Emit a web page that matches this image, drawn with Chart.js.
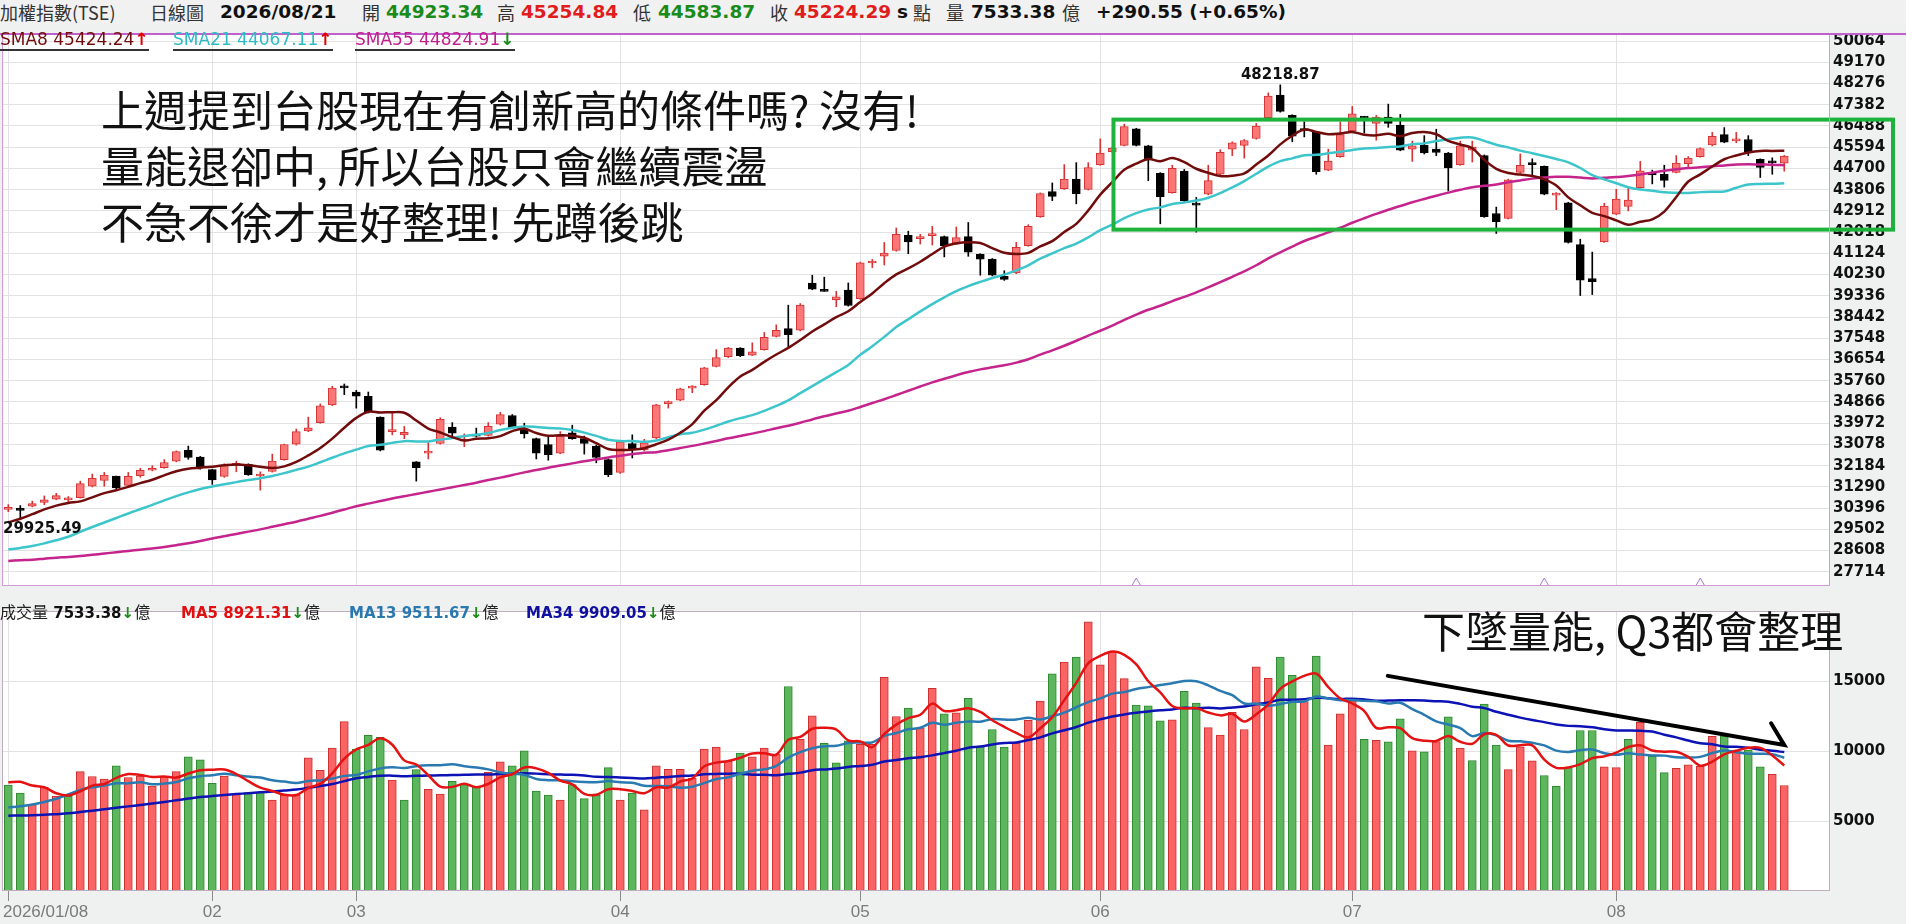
<!DOCTYPE html>
<html>
<head>
<meta charset="utf-8">
<script src="https://cdn.jsdelivr.net/npm/chart.js@4.4.1/dist/chart.umd.min.js"></script>
<style>
html, body { margin: 0; padding: 0; width: 1906px; height: 924px; overflow: hidden; background: #eff1f1; font-family: "DejaVu Sans", sans-serif; }
#hdr { position: absolute; left: 0; top: 0; width: 1906px; height: 24px; background: #f1f1f1; }
.h { position: absolute; top: 0; line-height: 24px; font-size: 18px; color: #333; white-space: nowrap; font-family: "Noto Sans CJK TC", sans-serif; }
.hn { position: absolute; top: 0; line-height: 24px; font-size: 18.5px; font-weight: bold; white-space: nowrap; font-family: "DejaVu Sans", sans-serif; color: #111; }
.grn { color: #1a8a1a; }
.red { color: #e01c1c; }
canvas { position: absolute; left: 0; }
.lg { position: absolute; top: 30px; line-height: 19px; font-size: 17px; white-space: nowrap; border-bottom: 2px solid #333; z-index: 3; }
.vl { position: absolute; top: 602px; line-height: 19px; font-size: 15px; font-weight: bold; white-space: nowrap; z-index: 3; }
.vl .k { font-family: "Noto Sans CJK TC", sans-serif; font-weight: normal; color: #222; font-size: 16px; }
.up { color: #e00000; font-weight: bold; }
.dn { color: #1a8a1a; font-weight: bold; }
.big { position: absolute; font-family: "Noto Sans CJK TC", sans-serif; font-size: 43px; line-height: 43px; color: #111; white-space: nowrap; z-index: 4; }
</style>
</head>
<body>
<div id="hdr"></div>
<span class="h" style="left:0">加權指數(TSE)</span>
<span class="h" style="left:150px">日線圖</span>
<span class="hn" style="left:220px">2026/08/21</span>
<span class="h" style="left:362px">開</span><span class="hn grn" style="left:386px">44923.34</span>
<span class="h" style="left:497px">高</span><span class="hn red" style="left:521px">45254.84</span>
<span class="h" style="left:633px">低</span><span class="hn grn" style="left:658px">44583.87</span>
<span class="h" style="left:770px">收</span><span class="hn red" style="left:794px">45224.29</span>
<span class="hn" style="left:897px">s</span><span class="h" style="left:913px">點</span>
<span class="h" style="left:946px">量</span><span class="hn" style="left:971px">7533.38</span><span class="h" style="left:1062px">億</span>
<span class="hn" style="left:1096px">+290.55 (+0.65%)</span>

<canvas id="pc" width="1906" height="576" style="top:22px"></canvas>
<canvas id="vc" width="1906" height="325" style="top:599px"></canvas>

<div class="lg" style="left:0;color:#720d0d">SMA8 45424.24<span class="up">↑</span></div>
<div class="lg" style="left:173px;color:#2cbcc4">SMA21 44067.11<span class="up">↑</span></div>
<div class="lg" style="left:355px;color:#c0208c">SMA55 44824.91<span class="dn">↓</span></div>

<div class="vl" style="left:0;color:#111"><span class="k">成交量</span> 7533.38<span class="dn">↓</span><span class="k">億</span></div>
<div class="vl" style="left:181px;color:#e01010">MA5 8921.31<span class="dn">↓</span><span class="k">億</span></div>
<div class="vl" style="left:349px;color:#2a78b0">MA13 9511.67<span class="dn">↓</span><span class="k">億</span></div>
<div class="vl" style="left:526px;color:#1010a0">MA34 9909.05<span class="dn">↓</span><span class="k">億</span></div>

<div class="big" style="left:101px;top:87px">上週提到台股現在有創新高的條件嗎? 沒有!</div>
<div class="big" style="left:101px;top:143px">量能退卻中, 所以台股只會繼續震盪</div>
<div class="big" style="left:101px;top:199px">不急不徐才是好整理! 先蹲後跳</div>
<div class="big" style="left:1422px;top:608px">下墜量能, Q3都會整理</div>

<script>
// trading days per month (2026)
const tradeDays = {
    '01': [8, 9, 12, 13, 14, 15, 16, 19, 20, 21, 22, 23, 26, 27, 28, 29, 30],
    '02': [2, 3, 4, 5, 6, 9, 10, 11, 23, 24, 25, 26],
    '03': [2, 3, 4, 5, 6, 9, 10, 11, 12, 13, 16, 17, 18, 19, 20, 23, 24, 25, 26, 27, 30, 31],
    '04': [1, 2, 7, 8, 9, 10, 13, 14, 15, 16, 17, 20, 21, 22, 23, 24, 27, 28, 29, 30],
    '05': [4, 5, 6, 7, 8, 11, 12, 13, 14, 15, 18, 19, 20, 21, 22, 25, 26, 27, 28, 29],
    '06': [1, 2, 3, 4, 5, 8, 9, 10, 11, 12, 15, 16, 17, 18, 22, 23, 24, 25, 26, 29, 30],
    '07': [1, 2, 3, 6, 7, 8, 9, 10, 13, 14, 15, 16, 17, 20, 21, 22, 23, 24, 27, 28, 30, 31],
    '08': [3, 4, 5, 6, 7, 10, 11, 12, 13, 14, 17, 18, 19, 20, 21]
};

const open = [
    30340, 30380, 30475, 30638, 30773, 30746, 30841, 31315, 31559, 31735,
    31356, 31762, 31992, 32101, 32372, 32832, 32548, 32020, 31735, 32196,
    32236, 31749, 31938, 32440, 33090, 33645, 33997, 34743, 35480, 35284,
    35108, 34228, 33618, 33483, 32345, 32711, 33117, 33808, 33212, 33483,
    33456, 33930, 34296, 33726, 33320, 33076, 32710, 33564, 33320, 33008,
    32440, 31898, 33117, 32846, 33347, 34783, 34946, 35447, 35596, 36368,
    36775, 37140, 36842, 37072, 37628, 37953, 37885, 39877, 39552, 39172,
    39579, 39213, 40717, 41001, 41245, 41882, 41747, 41868, 41828, 41557,
    41828, 41083, 40880, 40162, 40297, 41449, 42668, 43724, 43846, 44253,
    43819, 44862, 45404, 45675, 46366, 45648, 44497, 43684, 44591, 43210,
    43616, 44456, 45513, 45675, 45960, 46840, 47789, 46935, 46352, 46217,
    44632, 45200, 46284, 46853, 46596, 46867, 46528, 45512, 45688, 45512,
    45350, 44862, 45470, 45241, 42803, 42600, 44537, 44889, 44794, 43580,
    43250, 41489, 40066, 41611, 42776, 43101, 43886, 44537, 44456, 44537,
    44903, 45200, 45688, 46122, 45864, 45919, 45079, 44943, 44923.34
];
const high = [
    30543, 30502, 30692, 30909, 31017, 30882, 31532, 31830, 31898, 31749,
    31898, 32074, 32182, 32440, 32805, 33008, 32575, 32033, 32264, 32372,
    32264, 31925, 32670, 33090, 33727, 34228, 34783, 35528, 35623, 35352,
    35284, 34241, 34404, 33835, 32358, 33158, 34201, 33997, 33523, 33767,
    33997, 34431, 34336, 33970, 33347, 33456, 33618, 33889, 33428, 33049,
    32470, 33212, 33482, 33293, 34770, 34905, 35447, 35555, 36327, 37072,
    37167, 37154, 37357, 37790, 38116, 38942, 39010, 40202, 40121, 39524,
    39877, 40757, 40866, 41584, 42193, 42058, 41923, 42261, 41855, 42234,
    42424, 41110, 40907, 40392, 41584, 42329, 43670, 44090, 44862, 44944,
    44944, 45946, 45608, 46569, 46393, 45675, 44524, 44835, 44659, 43480,
    44835, 45486, 45824, 45919, 46596, 47883, 48218.87, 46962, 46664, 46258,
    45512, 46664, 47314, 46894, 46934, 47409, 46975, 45851, 46081, 46352,
    45377, 45851, 45851, 45268, 43073, 44252, 45309, 45106, 44808, 43684,
    43277, 41719, 41177, 43236, 43819, 43859, 44997, 44632, 44835, 45241,
    45200, 45566, 46217, 46420, 46217, 46081, 45106, 45146, 45254.84
];
const low = [
    30245, 29925.49, 30448, 30543, 30746, 30665, 30814, 31288, 31315, 31207,
    31315, 31695, 31965, 32074, 32345, 32453, 32033, 31396, 31695, 31925,
    31776, 31153, 31911, 32413, 33049, 33618, 33970, 34715, 35176, 34607,
    34404, 32805, 33483, 33320, 31532, 32467, 33090, 33428, 32981, 33388,
    33428, 33889, 33753, 33347, 32467, 32413, 32683, 33293, 32670, 32304,
    31720, 31857, 32507, 32805, 33320, 34607, 34918, 35257, 35569, 36341,
    36734, 36775, 36815, 37045, 37601, 37181, 37858, 39592, 39524, 38874,
    38901, 39186, 40527, 40635, 41218, 41109, 41516, 41476, 40975, 41516,
    41002, 40202, 40175, 39986, 40270, 41422, 42641, 43345, 43819, 43210,
    43792, 44835, 45377, 45648, 45648, 44185, 42370, 43657, 43304, 42018,
    43589, 44429, 45242, 45134, 45933, 46800, 47071, 45824, 46028, 44456,
    44605, 45173, 46257, 46190, 45891, 46433, 45444, 44997, 45309, 45241,
    43751, 44835, 44970, 42640, 41963, 42573, 44496, 44428, 43589, 42965,
    41557, 39348, 39389, 41584, 42749, 42911, 43859, 44049, 43914, 44510,
    44767, 45173, 45648, 45783, 45783, 45241, 44320, 44456, 44583.87
];
const close = [
    30355, 30299, 30584, 30746, 30922, 30814, 31424, 31654, 31789, 31247,
    31735, 31992, 32060, 32318, 32778, 32534, 32128, 31586, 32196, 32277,
    31803, 31790, 32372, 33076, 33618, 33781, 34702, 35447, 35460, 35108,
    34444, 32832, 33699, 33591, 32101, 32751, 34133, 33550, 33293, 33428,
    33835, 34336, 33794, 33523, 32710, 32643, 33414, 33320, 33117, 32534,
    31800, 33184, 32846, 33144, 34742, 34878, 35420, 35474, 36300, 36734,
    37140, 36815, 36978, 37587, 37885, 37696, 38942, 39619, 39524, 39294,
    38928, 40730, 40771, 41137, 41922, 41611, 41774, 41896, 41449, 41787,
    41178, 40880, 40202, 40026, 41381, 42261, 43643, 43521, 44253, 43643,
    44740, 45350, 45553, 46461, 45675, 45106, 43508, 44700, 43345, 43156,
    44185, 45377, 45784, 45878, 46488, 47748, 47098, 46055, 46298, 44564,
    45011, 46122, 47002, 46826, 46867, 46596, 45471, 45648, 45350, 45377,
    44726, 45648, 45600, 42667, 42464, 44225, 44835, 44862, 43616, 43600,
    41584, 40000, 39931, 43114, 43412, 43372, 44605, 44428, 44198, 44930,
    45133, 45539, 46054, 45810, 45891, 45404, 44740, 44933.74, 45224.29
];

// volume (億), 1 = red bar (close up), 0 = green bar
const volume = [
    7573, 6990, 6175, 7409, 6757, 6757, 8528, 8178, 7992, 8947,
    8108, 8202, 7503, 8155, 8528, 9576, 9367, 7689, 8202, 6943,
    7037, 7037, 6501, 6850, 6850, 9506, 8621, 10205, 12093, 10136,
    11114, 10974, 7922, 6501, 8668, 7270, 6920, 7829, 7596, 7456,
    8481, 9227, 8947, 10019, 7130, 6850, 6501, 7596, 6594, 6827,
    8807, 6501, 6990, 5802, 8947, 8691, 8691, 8062, 10136, 10275,
    9273, 9856, 9576, 10205, 9786, 14609, 10834, 12512, 10555, 9157,
    10718, 10485, 10485, 15261, 12466, 13071, 11650, 14469, 12652, 12722,
    13770, 10322, 11534, 10275, 10555, 12186, 13561, 15518, 16357, 16706,
    19222, 16147, 17102, 15168, 13281, 13234, 12163, 12233, 14260, 13421,
    11673, 11137, 12768, 11534, 16007, 15192, 16706, 15401, 13537, 16776,
    10415, 12652, 13584, 10834, 10765, 10648, 12302, 10019, 9949, 10671,
    12442, 10205, 9320, 13351, 10415, 8668, 10299, 9297, 8248, 7479,
    8807, 11464, 11464, 8877, 8807, 10834, 12046, 9623, 8458, 8761,
    9017, 8901, 11044, 11091, 10019, 10066, 8877, 8341, 7533.38
];
const volUp = [
    0, 0, 1, 1, 1, 0, 1, 1, 1, 0,
    1, 1, 1, 1, 1, 0, 0, 0, 1, 1,
    0, 0, 1, 1, 1, 1, 1, 1, 1, 0,
    0, 0, 1, 0, 0, 1, 1, 0, 0, 0,
    1, 1, 0, 0, 0, 0, 1, 0, 0, 0,
    0, 1, 0, 1, 1, 1, 1, 1, 1, 1,
    1, 0, 1, 1, 1, 0, 1, 1, 0, 0,
    0, 1, 1, 1, 1, 0, 1, 1, 0, 1,
    0, 0, 0, 0, 1, 1, 1, 0, 1, 0,
    1, 1, 1, 1, 0, 0, 0, 1, 0, 0,
    1, 1, 1, 1, 1, 1, 0, 0, 1, 0,
    1, 1, 1, 0, 1, 0, 0, 1, 0, 1,
    0, 1, 0, 0, 0, 1, 1, 1, 0, 0,
    0, 0, 0, 1, 1, 0, 1, 0, 0, 1,
    1, 1, 1, 0, 1, 0, 0, 1, 1
];

// moving average values before the window is full
const sma8Head = [29800, 29950, 30140, 30340, 30500, 30610, 30680];
const sma21Head = [28650, 28720, 28800, 28910, 29040, 29190, 29400, 29600, 29790, 29980,
    30170, 30350, 30530, 30720, 30900, 31060, 31200, 31310, 31400, 31490];
const sma55Head = [28172, 28199, 28226, 28267, 28308, 28335, 28375, 28430, 28484, 28538,
    28592, 28646, 28700, 28755, 28836, 28917, 29012, 29120, 29215, 29310,
    29405, 29500, 29608, 29717, 29825, 29947, 30069, 30204, 30340, 30475,
    30584, 30692, 30800, 30895, 30990, 31085, 31180, 31275, 31369, 31464,
    31580, 31680, 31790, 31900, 32000, 32100, 32190, 32280, 32370, 32450,
    32530, 32600, 32670, 32730];
const ma5Head = [7760, 7800, 7530, 7410];
const ma13Head = [5965, 6058, 6175, 6361, 6594, 6897, 7223, 7409, 7526, 7689, 7689, 7759];
const ma34Head = [5380, 5390, 5410, 5440, 5490, 5545, 5640, 5740, 5840, 5940,
    6045, 6150, 6255, 6360, 6480, 6600, 6710, 6780, 6850, 6920,
    6990, 7050, 7110, 7180, 7246, 7370, 7500, 7640, 7850, 8060,
    8150, 8225, 8240];

const priceTicks = [27714, 28608, 29502, 30396, 31290, 32184, 33078, 33972, 34866, 35760,
    36654, 37548, 38442, 39336, 40230, 41124, 42018, 42912, 43806, 44700,
    45594, 46488, 47382, 48276, 49170, 50064];
const volTicks = [5000, 10000, 15000];
const markIdx = [94, 128, 141];

// ---------------------
const dates = [];
Object.keys(tradeDays).forEach(m => {
    tradeDays[m].forEach(d => dates.push('2026/' + m + '/' + String(d).padStart(2, '0')));
});
const idx = dates.map((d, i) => i);
const monthStarts = idx.filter(i => i === 0 || dates[i].slice(5, 7) !== dates[i - 1].slice(5, 7));

function movingAvg(src, n, head) {
    return src.map((v, i) => {
        if (i < n - 1) return head[i];
        let s = 0;
        for (let k = i - n + 1; k <= i; k++) s += src[k];
        return s / n;
    });
}

const sma8 = movingAvg(close, 8, sma8Head);
const sma21 = movingAvg(close, 21, sma21Head);
const sma55 = movingAvg(close, 55, sma55Head);
const ma5 = movingAvg(volume, 5, ma5Head);
const ma13 = movingAvg(volume, 13, ma13Head);
const ma34 = movingAvg(volume, 34, ma34Head);

const X_MIN = -0.525, X_MAX = 151.81;
const up = close.map((c, i) => c >= open[i]);

const UP_FILL = '#fb7676', UP_LINE = '#d63434';

function lineSet(values, color, order) {
    return {
        type: 'line',
        data: idx.map(i => ({ x: i, y: values[i] })),
        borderColor: color,
        borderWidth: 2.5,
        pointRadius: 0,
        tension: 0.35,
        order: order
    };
}

function xAxis(extra) {
    return Object.assign({
        type: 'linear', min: X_MIN, max: X_MAX, offset: false,
        afterBuildTicks: s => { s.ticks = monthStarts.map(v => ({ value: v })); },
        ticks: { display: false },
        grid: { color: '#e2e2e2', drawTicks: false, offset: false },
        border: { display: false }
    }, extra);
}

const axisFont = { family: 'DejaVu Sans', size: 15, weight: 'bold' };

// ---------- price panel ----------
const priceDeco = {
    id: 'priceDeco',
    beforeDraw(c) {
        const { ctx, chartArea: a } = c;
        ctx.save();
        ctx.fillStyle = '#fff';
        ctx.fillRect(a.left, a.top, a.right - a.left, a.bottom - a.top);
        ctx.restore();
    },
    afterDatasetsDraw(c) {
        const { ctx, chartArea: a } = c;
        const xs = c.scales.x, ys = c.scales.y;
        ctx.save();

        // high / low labels
        let hi = 0, lo = 0;
        high.forEach((v, i) => { if (v > high[hi]) hi = i; });
        low.forEach((v, i) => { if (v < low[lo]) lo = i; });
        ctx.font = 'bold 15px "DejaVu Sans"';
        ctx.fillStyle = '#111';
        ctx.textAlign = 'center';
        ctx.textBaseline = 'bottom';
        ctx.fillText(high[hi].toFixed(2), xs.getPixelForValue(hi), ys.getPixelForValue(high[hi]) - 2);
        const loTxt = low[lo].toFixed(2);
        const w = ctx.measureText(loTxt).width;
        ctx.textAlign = 'left';
        ctx.textBaseline = 'top';
        ctx.fillText(loTxt, Math.max(a.left + 1, xs.getPixelForValue(lo) - w / 2), ys.getPixelForValue(low[lo]) + 2);

        // small markers on the bottom edge
        ctx.strokeStyle = '#a57ad0';
        ctx.lineWidth = 1;
        markIdx.forEach(i => {
            const x = xs.getPixelForValue(i);
            ctx.beginPath();
            ctx.moveTo(x - 4, a.bottom - 1);
            ctx.lineTo(x, a.bottom - 8);
            ctx.lineTo(x + 4, a.bottom - 1);
            ctx.stroke();
        });

        // consolidation box
        const l = xs.getPixelForValue(92.1);
        const t = ys.getPixelForValue(46757);
        const b = ys.getPixelForValue(42124);
        ctx.strokeStyle = '#1eb33c';
        ctx.lineWidth = 4;
        ctx.strokeRect(l, t, 1893 - l, b - t);
        ctx.restore();
    },
    afterDraw(c) {
        const { ctx, chartArea: a } = c;
        ctx.save();
        ctx.strokeStyle = '#d39ad8';
        ctx.lineWidth = 1;
        ctx.strokeRect(a.left + 0.5, a.top + 0.5, a.right - a.left - 1, a.bottom - a.top - 1);
        ctx.strokeStyle = '#c060cc';
        ctx.lineWidth = 2;
        ctx.beginPath();
        ctx.moveTo(0, a.top);
        ctx.lineTo(1906, a.top);
        ctx.stroke();
        ctx.restore();
    }
};

new Chart(document.getElementById('pc'), {
    type: 'bar',
    data: {
        datasets: [
            lineSet(sma8, '#700c0c', 0),
            lineSet(sma21, '#3cc6cc', 0),
            lineSet(sma55, '#c4248c', 0),
            {
                data: idx.map(i => ({ x: i, y: [open[i], close[i]] })),
                backgroundColor: up.map(u => u ? UP_FILL : '#000'),
                borderColor: up.map(u => u ? UP_LINE : '#000'),
                borderWidth: 1,
                borderSkipped: false,
                barThickness: 8,
                minBarLength: 2,
                grouped: false,
                order: 1
            },
            {
                data: idx.map(i => ({ x: i, y: [low[i], high[i]] })),
                backgroundColor: up.map(u => u ? UP_LINE : '#000'),
                borderWidth: 0,
                barThickness: 1,
                grouped: false,
                order: 2
            }
        ]
    },
    options: {
        responsive: false,
        animation: false,
        devicePixelRatio: 1,
        layout: { padding: { left: 2, top: 2, right: 0, bottom: 2 } },
        plugins: { legend: { display: false }, tooltip: { enabled: false } },
        scales: {
            x: xAxis({ afterFit: s => { s.height = 0; } }),
            y: {
                position: 'right', min: 27116, max: 50362,
                afterBuildTicks: s => { s.ticks = priceTicks.map(v => ({ value: v })); },
                afterFit: s => { s.width = 76; },
                ticks: { color: '#111', font: axisFont, padding: 3, callback: v => String(v) },
                grid: { color: '#e2e2e2', drawTicks: false },
                border: { display: false }
            }
        }
    },
    plugins: [priceDeco]
});

// ---------- volume panel ----------
const volDeco = {
    id: 'volDeco',
    beforeDraw(c) {
        const { ctx, chartArea: a } = c;
        ctx.save();
        ctx.fillStyle = '#fff';
        ctx.fillRect(a.left, a.top, a.right - a.left, a.bottom - a.top);
        ctx.restore();
    },
    afterDatasetsDraw(c) {
        const { ctx } = c;
        const xs = c.scales.x, ys = c.scales.y;
        // falling-volume arrow
        const x0 = xs.getPixelForValue(114.96), y0 = ys.getPixelForValue(15368);
        const x1 = xs.getPixelForValue(148.0), y1 = ys.getPixelForValue(10422);
        const xb = xs.getPixelForValue(146.9), yb = ys.getPixelForValue(11980);
        ctx.save();
        ctx.strokeStyle = '#000';
        ctx.lineWidth = 4;
        ctx.lineCap = 'round';
        ctx.beginPath();
        ctx.moveTo(x0, y0);
        ctx.lineTo(x1, y1);
        ctx.lineTo(xb, yb);
        ctx.stroke();
        ctx.restore();
    },
    afterDraw(c) {
        const { ctx, chartArea: a } = c;
        const xs = c.scales.x;
        ctx.save();
        ctx.strokeStyle = '#bfaebf';
        ctx.lineWidth = 1;
        ctx.strokeRect(a.left + 0.5, a.top + 0.5, a.right - a.left - 1, a.bottom - a.top - 1);
        // date labels
        ctx.font = '17px "Liberation Sans Narrow", "Liberation Sans", sans-serif';
        ctx.fillStyle = '#7a7a7a';
        ctx.textBaseline = 'middle';
        monthStarts.forEach((i, k) => {
            const x = xs.getPixelForValue(i);
            if (k === 0) {
                ctx.textAlign = 'left';
                ctx.fillText(dates[i], 3, a.bottom + 21);
            } else {
                ctx.textAlign = 'center';
                ctx.fillText(dates[i].slice(5, 7), x, a.bottom + 21);
            }
        });
        ctx.restore();
    }
};

new Chart(document.getElementById('vc'), {
    type: 'bar',
    data: {
        datasets: [
            lineSet(ma5, '#e41212', 0),
            lineSet(ma13, '#2a7ab2', 0),
            lineSet(ma34, '#0c12b4', 0),
            {
                data: idx.map(i => ({ x: i, y: volume[i] })),
                backgroundColor: volUp.map(u => u ? '#fa6464' : '#5db55d'),
                borderColor: volUp.map(u => u ? '#c93030' : '#2f8a2f'),
                borderWidth: 1,
                borderSkipped: false,
                barThickness: 8,
                grouped: false,
                order: 1
            }
        ]
    },
    options: {
        responsive: false,
        animation: false,
        devicePixelRatio: 1,
        layout: { padding: { left: 2, top: 2, right: 0, bottom: 0 } },
        plugins: { legend: { display: false }, tooltip: { enabled: false } },
        scales: {
            x: xAxis({
                grid: { color: '#e2e2e2', drawTicks: true, tickLength: 10, tickColor: '#8a8a8a', offset: false },
                afterFit: s => { s.height = 33; }
            }),
            y: {
                position: 'right', min: 0, max: 20000,
                afterBuildTicks: s => { s.ticks = volTicks.map(v => ({ value: v })); },
                afterFit: s => { s.width = 76; },
                ticks: { color: '#111', font: axisFont, padding: 3, callback: v => String(v) },
                grid: { color: '#e2e2e2', drawTicks: false },
                border: { display: false }
            }
        }
    },
    plugins: [volDeco]
});
</script>
</body>
</html>
